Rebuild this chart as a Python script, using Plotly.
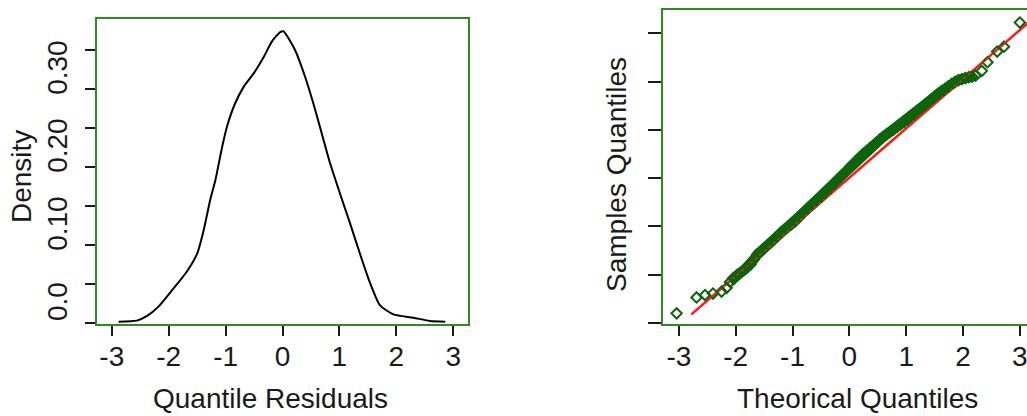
import plotly.graph_objects as go

# ---------------- data ----------------
# Left panel: kernel density of quantile residuals
dens_x = [-2.88, -2.56, -2.38, -2.18, -1.94, -1.68, -1.50, -1.385, -1.27, -1.18, -1.06,
          -0.975, -0.83, -0.68, -0.506, -0.33, -0.185, -0.04, 0.015, 0.22, 0.395, 0.54,
          0.69, 0.835, 1.01, 1.186, 1.36, 1.54, 1.71, 1.95, 2.30, 2.59, 2.86]
dens_y = [0.0017, 0.003, 0.009, 0.021, 0.042, 0.066, 0.089, 0.119, 0.158, 0.183, 0.226,
          0.252, 0.282, 0.303, 0.320, 0.341, 0.361, 0.373, 0.374, 0.350, 0.316, 0.282,
          0.243, 0.205, 0.166, 0.128, 0.089, 0.051, 0.023, 0.011, 0.0068, 0.0026, 0.0017]

dens_xticks = [-3, -2, -1, 0, 1, 2, 3]
dens_xtick_text = ["-3", "-2", "-1", "0", "1", "2", "3"]
dens_yticks = [0.0, 0.05, 0.10, 0.15, 0.20, 0.25, 0.30, 0.35]
dens_ylabel_vals = [0.0, 0.1, 0.2, 0.3]
dens_ylabel_text = ["0.0", "0.10", "0.20", "0.30"]

# Right panel: normal Q-Q plot (theoretical vs sample quantiles)
qq_tail_lo_theo = [-3.04, -2.69, -2.54, -2.40, -2.25, -2.16]
qq_tail_lo_sample = [-2.80, -2.47, -2.42, -2.39, -2.35, -2.27]
qq_body_theo = [-2.10, -2.04, -1.98, -1.92, -1.86, -1.80, -1.74, -1.68, -1.62, -1.56, -1.50,
                -1.44, -1.38, -1.32, -1.26, -1.20, -1.14, -1.08, -1.02, -0.96, -0.90, -0.84,
                -0.78, -0.72, -0.66, -0.60, -0.54, -0.48, -0.42, -0.36, -0.30, -0.24, -0.18,
                -0.12, -0.06, 0.00, 0.06, 0.12, 0.18, 0.24, 0.30, 0.36, 0.42, 0.48, 0.54,
                0.60, 0.66, 0.72, 0.78, 0.84, 0.90, 0.96, 1.02, 1.08, 1.14, 1.20, 1.26,
                1.32, 1.38, 1.44, 1.50, 1.56, 1.62, 1.68, 1.74, 1.80, 1.86, 1.92, 1.98,
                2.04, 2.10, 2.16, 2.22]
qq_body_sample = [-2.15, -2.07, -2.01, -1.96, -1.91, -1.85, -1.79, -1.68, -1.58, -1.52, -1.46,
                  -1.39, -1.33, -1.26, -1.19, -1.12, -1.06, -1.01, -0.96, -0.90, -0.83, -0.75,
                  -0.68, -0.61, -0.55, -0.49, -0.43, -0.37, -0.30, -0.22, -0.14, -0.07, 0.00,
                  0.07, 0.14, 0.22, 0.29, 0.36, 0.43, 0.50, 0.56, 0.62, 0.68, 0.74, 0.80,
                  0.86, 0.91, 0.96, 1.01, 1.06, 1.11, 1.16, 1.21, 1.27, 1.33, 1.39, 1.45,
                  1.51, 1.57, 1.63, 1.69, 1.75, 1.80, 1.85, 1.90, 1.95, 1.99, 2.03, 2.05,
                  2.07, 2.09, 2.10, 2.12]
qq_tail_hi_theo = [2.33, 2.43, 2.60, 2.72, 3.00]
qq_tail_hi_sample = [2.22, 2.40, 2.62, 2.72, 3.22]
qq_line_x = [-2.78, 3.3]
qq_line_y = [-2.82, 3.37]
qq_xticks = [-3, -2, -1, 0, 1, 2, 3]
qq_xtick_text = ["-3", "-2", "-1", "0", "1", "2", "3"]
qq_yticks = [-3, -2, -1, 0, 1, 2, 3]

# ---------------- styling ----------------
W, H = 1027, 416
FONT = "Liberation Sans, Arial, sans-serif"
BOX = "#2E8B22"
INK = "#1a1a1a"
PTS = "#0B650B"
TICKFONT = dict(family=FONT, size=28, color=INK)
TITLEFONT = dict(family=FONT, size=28, color=INK)


def fx(px):
    return px / W


def fy(py):
    return (H - py) / H


fig = go.Figure()

fig.add_trace(go.Scatter(x=dens_x, y=dens_y, mode="lines",
                         line=dict(color="black", width=2, shape="spline", smoothing=0.6),
                         xaxis="x", yaxis="y", showlegend=False))
# carrier for the shifted density label axis
fig.add_trace(go.Scatter(x=[0] * len(dens_ylabel_vals), y=dens_ylabel_vals, mode="markers",
                         marker=dict(opacity=0), hoverinfo="skip",
                         xaxis="x", yaxis="y3", showlegend=False))

qq_all_theo = qq_tail_lo_theo + qq_body_theo + qq_tail_hi_theo
qq_all_sample = qq_tail_lo_sample + qq_body_sample + qq_tail_hi_sample

fig.add_trace(go.Scatter(x=qq_line_x, y=qq_line_y, mode="lines",
                         line=dict(color="#FF1A1A", width=2.5),
                         xaxis="x2", yaxis="y2", showlegend=False))
fig.add_trace(go.Scatter(x=qq_body_theo, y=qq_body_sample, mode="lines",
                         line=dict(color=PTS, width=10),
                         xaxis="x2", yaxis="y2", showlegend=False, hoverinfo="skip"))
fig.add_trace(go.Scatter(x=qq_all_theo, y=qq_all_sample, mode="markers",
                         marker=dict(symbol="diamond-open", size=8, color=PTS,
                                     line=dict(width=2, color=PTS)),
                         xaxis="x2", yaxis="y2", showlegend=False))
fig.add_trace(go.Scatter(x=qq_line_x, y=qq_line_y, mode="lines",
                         line=dict(color="#FF1A1A", width=1.5, dash="dot"),
                         xaxis="x2", yaxis="y2", showlegend=False))

d_shift = 0.022
d_yrange = [-0.0013, 0.3897]

fig.update_layout(
    width=W, height=H,
    margin=dict(l=0, r=0, t=0, b=0),
    paper_bgcolor="white", plot_bgcolor="white",
    xaxis=dict(domain=[fx(97), fx(468)], range=[-3.26, 3.26],
               tickvals=dens_xticks, ticktext=dens_xtick_text,
               ticks="outside", ticklen=10, tickwidth=2, tickcolor=INK,
               ticklabelstandoff=-4,
               showline=True, linecolor=BOX, linewidth=2, mirror=True,
               showgrid=False, zeroline=False, tickfont=TICKFONT, anchor="y"),
    yaxis=dict(domain=[fy(324), fy(19)], range=d_yrange,
               tickvals=dens_yticks, showticklabels=False,
               ticks="outside", ticklen=10, tickwidth=2, tickcolor=INK,
               showline=True, linecolor=BOX, linewidth=2, mirror=True,
               showgrid=False, zeroline=False, anchor="x"),
    yaxis3=dict(overlaying="y", anchor="x", side="left",
                range=[d_yrange[0] - d_shift, d_yrange[1] - d_shift],
                tickvals=dens_ylabel_vals, ticktext=dens_ylabel_text,
                tickangle=-90, ticks="outside", ticklen=10, tickcolor="rgba(0,0,0,0)",
                ticklabelstandoff=8,
                showline=False, showgrid=False, zeroline=False, tickfont=TICKFONT),
    xaxis2=dict(domain=[fx(663), 1.0], range=[-3.28, 3.125],
                tickvals=qq_xticks, ticktext=qq_xtick_text,
                ticks="outside", ticklen=10, tickwidth=2, tickcolor=INK,
                ticklabelstandoff=-4, ticklabeloverflow="allow",
                showline=True, linecolor=BOX, linewidth=2, mirror=True,
                showgrid=False, zeroline=False, tickfont=TICKFONT, anchor="y2"),
    yaxis2=dict(domain=[fy(324), fy(10)], range=[-3.02, 3.48],
                tickvals=qq_yticks, showticklabels=False,
                ticks="outside", ticklen=13, tickwidth=2, tickcolor=INK,
                showline=True, linecolor=BOX, linewidth=2, mirror=False,
                showgrid=False, zeroline=False, anchor="x2"),
    annotations=[
        dict(text="Density", x=fx(21), y=fy(177), xref="paper", yref="paper",
             textangle=-90, showarrow=False, font=TITLEFONT, xanchor="center", yanchor="middle"),
        dict(text="Quantile Residuals", x=fx(270), y=fy(416), xref="paper", yref="paper",
             showarrow=False, font=TITLEFONT, xanchor="center", yanchor="bottom"),
        dict(text="Samples Quantiles", x=fx(617), y=fy(175), xref="paper", yref="paper",
             textangle=-90, showarrow=False, font=TITLEFONT, xanchor="center", yanchor="middle"),
        dict(text="Theorical Quantiles", x=fx(857), y=fy(416), xref="paper", yref="paper",
             showarrow=False, font=TITLEFONT, xanchor="center", yanchor="bottom"),
    ],
)

fig.write_html("out.html", config={"displayModeBar": False},
               post_script="document.body.style.margin='0';document.body.style.overflow='hidden';")
